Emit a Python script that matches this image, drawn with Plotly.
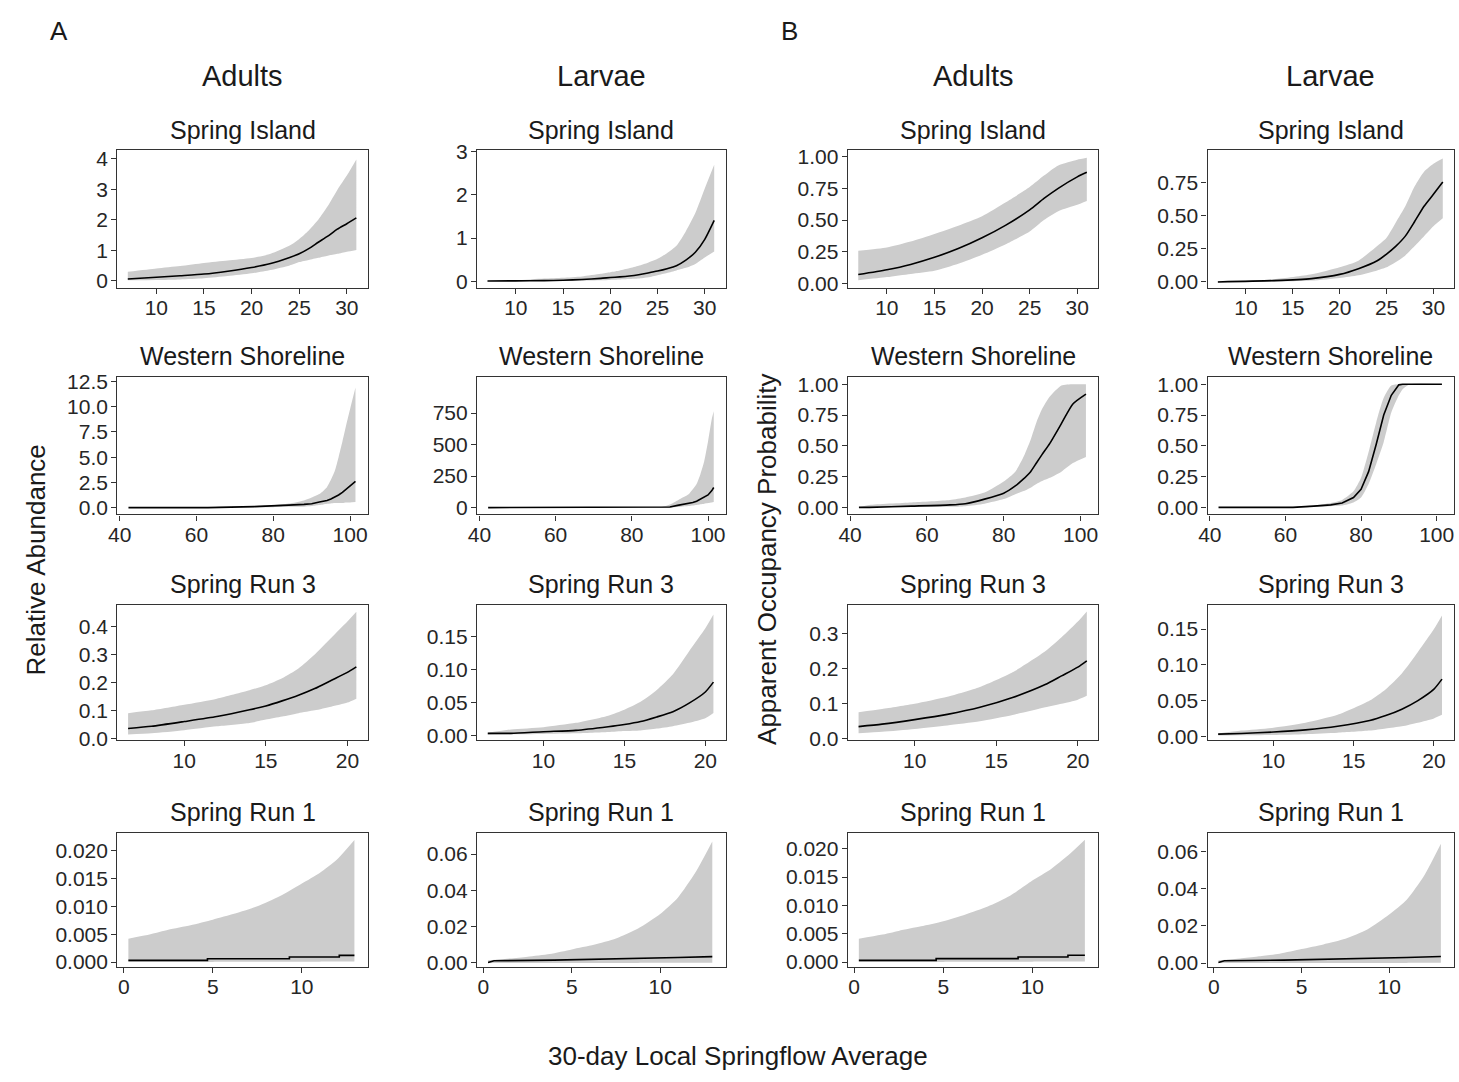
import plotly.graph_objects as go

W, H = 1459, 1082
FONT = "Liberation Sans, Arial, sans-serif"
INK = "#1a1a1a"
TICK_INK = "#262626"
BAND = "#CCCCCC"
FRAME = "#333333"

# ---------------- Spring Island ----------------
si_ad_ab_x = [7, 10, 12.5, 15, 17.5, 20, 22, 24, 25, 26, 27, 28, 29, 30, 31]
si_ad_ab_mid = [0.055, 0.11, 0.16, 0.215, 0.31, 0.43, 0.56, 0.76, 0.88, 1.05, 1.26, 1.46, 1.69, 1.87, 2.06]
si_ad_ab_hi = [0.29, 0.40, 0.48, 0.58, 0.66, 0.74, 0.88, 1.15, 1.37, 1.65, 2.0, 2.45, 2.98, 3.45, 3.98]
si_ad_ab_lo = [0.01, 0.02, 0.04, 0.08, 0.15, 0.24, 0.35, 0.50, 0.61, 0.68, 0.75, 0.82, 0.88, 0.95, 1.01]

si_lv_ab_x = [7, 10, 13, 15, 17, 19, 20, 21, 22, 23, 24, 25, 26, 27, 28, 29, 30, 31]
si_lv_ab_mid = [0.005, 0.008, 0.012, 0.02, 0.04, 0.065, 0.085, 0.10, 0.12, 0.15, 0.19, 0.235, 0.29, 0.36, 0.49, 0.67, 0.97, 1.41]
si_lv_ab_hi = [0.005, 0.02, 0.06, 0.08, 0.11, 0.17, 0.21, 0.25, 0.30, 0.36, 0.43, 0.52, 0.65, 0.82, 1.16, 1.58, 2.15, 2.70]
si_lv_ab_lo = [0.0, 0.0, 0.003, 0.006, 0.012, 0.022, 0.03, 0.038, 0.048, 0.06, 0.09, 0.14, 0.19, 0.25, 0.31, 0.40, 0.55, 0.69]

si_ad_oc_x = [7, 10, 12.5, 15, 17.5, 20, 22.5, 25, 26.5, 28, 30, 31]
si_ad_oc_mid = [0.07, 0.108, 0.15, 0.206, 0.275, 0.36, 0.46, 0.58, 0.67, 0.75, 0.84, 0.876]
si_ad_oc_hi = [0.257, 0.283, 0.33, 0.39, 0.455, 0.53, 0.64, 0.76, 0.85, 0.93, 0.975, 0.99]
si_ad_oc_lo = [0.025, 0.05, 0.075, 0.10, 0.155, 0.227, 0.31, 0.41, 0.50, 0.57, 0.62, 0.65]

si_lv_oc_x = [7, 13, 17, 20, 22, 24, 25, 26, 27, 28, 29, 30, 31]
si_lv_oc_mid = [0.0, 0.01, 0.025, 0.057, 0.10, 0.16, 0.21, 0.27, 0.345, 0.455, 0.57, 0.66, 0.753]
si_lv_oc_hi = [0.005, 0.02, 0.057, 0.11, 0.16, 0.27, 0.333, 0.45, 0.57, 0.72, 0.83, 0.89, 0.93]
si_lv_oc_lo = [0.0, 0.002, 0.01, 0.03, 0.05, 0.087, 0.11, 0.15, 0.20, 0.27, 0.345, 0.42, 0.48]

# ---------------- Western Shoreline ----------------
ws_ad_ab_x = [42.3, 63, 75, 80, 84, 88, 90, 92, 93, 94, 95, 96, 97, 98, 99, 100, 101.4]
ws_ad_ab_mid = [0.0, 0.0, 0.1, 0.15, 0.25, 0.32, 0.39, 0.55, 0.62, 0.71, 0.86, 1.03, 1.25, 1.52, 1.82, 2.17, 2.59]
ws_ad_ab_hi = [0.0, 0.05, 0.15, 0.25, 0.4, 0.71, 1.0, 1.35, 1.65, 2.05, 2.75, 3.62, 5.0, 6.54, 8.2, 9.78, 11.89]
ws_ad_ab_lo = [0.0, 0.0, 0.03, 0.05, 0.08, 0.1, 0.15, 0.25, 0.32, 0.39, 0.42, 0.45, 0.45, 0.45, 0.5, 0.52, 0.55]

ws_lv_ab_x = [42.3, 88, 90, 92, 93, 94, 95, 96, 97, 98, 99, 100, 101, 101.5]
ws_lv_ab_mid = [0, 0, 5, 18, 22, 26, 31, 40, 51, 66, 83, 101, 135, 160]
ws_lv_ab_hi = [0, 8, 25, 57, 75, 90, 109, 145, 187, 265, 368, 524, 705, 765]
ws_lv_ab_lo = [0, 0, 1, 5, 8, 10, 12, 16, 20, 26, 31, 36, 40, 44]

ws_ad_oc_x = [42.3, 45, 56, 66, 70, 75, 80, 83, 85, 87, 88.5, 90, 92, 95, 98, 101.4]
ws_ad_oc_mid = [0.0, 0.0, 0.01, 0.02, 0.03, 0.067, 0.115, 0.174, 0.227, 0.29, 0.36, 0.43, 0.52, 0.68, 0.84, 0.92]
ws_ad_oc_hi = [0.0, 0.02, 0.04, 0.06, 0.08, 0.12, 0.21, 0.29, 0.40, 0.55, 0.69, 0.80, 0.90, 0.99, 1.0, 1.0]
ws_ad_oc_lo = [0.0, 0.0, 0.002, 0.005, 0.01, 0.03, 0.067, 0.107, 0.13, 0.16, 0.19, 0.214, 0.24, 0.29, 0.36, 0.41]

ws_lv_oc_x = [42.3, 62, 67.5, 72, 75, 78, 80, 82, 84, 86, 88, 90, 91, 93, 101.4]
ws_lv_oc_mid = [0.0, 0.0, 0.01, 0.02, 0.035, 0.08, 0.147, 0.29, 0.51, 0.75, 0.91, 0.995, 1.0, 1.0, 1.0]
ws_lv_oc_hi = [0.0, 0.005, 0.015, 0.035, 0.06, 0.13, 0.24, 0.45, 0.69, 0.89, 0.99, 1.0, 1.0, 1.0, 1.0]
ws_lv_oc_lo = [0.0, 0.0, 0.003, 0.01, 0.015, 0.04, 0.08, 0.19, 0.35, 0.53, 0.77, 0.91, 0.96, 1.0, 1.0]

# ---------------- Spring Run 3 ----------------
sr3_ad_ab_x = [6.56, 8, 10, 12, 14, 15, 16, 17, 18, 19, 20, 20.55]
sr3_ad_ab_mid = [0.035, 0.043, 0.06, 0.078, 0.102, 0.116, 0.134, 0.154, 0.178, 0.207, 0.236, 0.256]
sr3_ad_ab_hi = [0.09, 0.10, 0.12, 0.142, 0.172, 0.19, 0.215, 0.25, 0.30, 0.359, 0.418, 0.453]
sr3_ad_ab_lo = [0.014, 0.018, 0.029, 0.043, 0.055, 0.067, 0.078, 0.09, 0.10, 0.113, 0.128, 0.142]

sr3_lv_ab_x = [6.56, 8, 10, 12, 14, 15, 16, 17, 18, 19, 20, 20.5]
sr3_lv_ab_mid = [0.003, 0.003, 0.0055, 0.0075, 0.013, 0.0164, 0.021, 0.028, 0.036, 0.049, 0.066, 0.081]
sr3_lv_ab_hi = [0.004, 0.009, 0.0124, 0.019, 0.03, 0.039, 0.051, 0.069, 0.093, 0.128, 0.163, 0.184]
sr3_lv_ab_lo = [0.001, 0.0015, 0.002, 0.003, 0.005, 0.0065, 0.0075, 0.0104, 0.014, 0.019, 0.026, 0.034]

sr3_ad_oc_x = [6.56, 8, 10, 12, 14, 16, 18, 19, 20, 20.55]
sr3_ad_oc_mid = [0.035, 0.042, 0.055, 0.07, 0.09, 0.118, 0.155, 0.18, 0.205, 0.223]
sr3_ad_oc_hi = [0.076, 0.085, 0.10, 0.12, 0.148, 0.19, 0.25, 0.29, 0.335, 0.364]
sr3_ad_oc_lo = [0.016, 0.02, 0.028, 0.038, 0.05, 0.068, 0.09, 0.10, 0.112, 0.123]

sr3_lv_oc_x = [6.56, 8, 10, 12, 14, 16, 17, 18, 19, 20, 20.5]
sr3_lv_oc_mid = [0.003, 0.004, 0.006, 0.009, 0.014, 0.022, 0.029, 0.038, 0.05, 0.066, 0.08]
sr3_lv_oc_hi = [0.004, 0.008, 0.012, 0.019, 0.03, 0.05, 0.066, 0.088, 0.118, 0.15, 0.169]
sr3_lv_oc_lo = [0.001, 0.0015, 0.002, 0.003, 0.005, 0.008, 0.011, 0.014, 0.019, 0.025, 0.030]

# ---------------- Spring Run 1 ----------------
sr1_x = [0.26, 1.5, 2.5, 3.75, 5, 6.25, 7.5, 8.75, 10, 11, 12, 12.95]
sr1_lo = [0.00002, 0.00002, 0.00002, 0.00003, 0.00003, 0.00004, 0.00005, 0.00006, 0.00007, 0.00008, 0.0001, 0.0001]

sr1_ad_ab_hi = [0.0042, 0.0050, 0.0058, 0.0066, 0.0076, 0.0087, 0.0100, 0.0118, 0.0141, 0.0160, 0.0185, 0.0219]
sr1_ad_ab_mx = [0.26, 4.7, 9.3, 12.1, 12.95]
sr1_ad_ab_mid = [0.0003, 0.0006, 0.0009, 0.0012, 0.0012]

sr1_lv_ab_hi = [0.0015, 0.0025, 0.0035, 0.005, 0.0075, 0.010, 0.0135, 0.019, 0.027, 0.036, 0.050, 0.067]
sr1_lv_ab_mx = [0.26, 0.6, 4.0, 8.0, 11.0, 12.95]
sr1_lv_ab_mid = [0.0003, 0.0012, 0.0016, 0.0022, 0.003, 0.0035]

sr1_ad_oc_hi = [0.0041, 0.0048, 0.0055, 0.0063, 0.0072, 0.0084, 0.0098, 0.0117, 0.0144, 0.0163, 0.0188, 0.0216]
sr1_ad_oc_mx = [0.26, 4.6, 9.2, 12.0, 12.95]
sr1_ad_oc_mid = [0.0003, 0.0006, 0.0009, 0.0012, 0.0012]

sr1_lv_oc_hi = [0.0015, 0.0025, 0.0035, 0.005, 0.0075, 0.010, 0.013, 0.018, 0.026, 0.034, 0.047, 0.064]
sr1_lv_oc_mx = [0.26, 0.6, 4.0, 8.0, 11.0, 12.95]
sr1_lv_oc_mid = [0.0003, 0.0012, 0.0016, 0.0022, 0.003, 0.0035]

# ---------------- tick values / labels ----------------
si_xticks = [10, 15, 20, 25, 30]
ws_xticks = [40, 60, 80, 100]
sr3_xticks = [10, 15, 20]
sr1_xticks = [0, 5, 10]

si_ad_ab_yt = [0, 1, 2, 3, 4]
si_lv_ab_yt = [0, 1, 2, 3]
prob_yt = [0, 0.25, 0.5, 0.75, 1.0]
prob_ytl = ["0.00", "0.25", "0.50", "0.75", "1.00"]
si_lv_oc_yt = [0, 0.25, 0.5, 0.75]
si_lv_oc_ytl = ["0.00", "0.25", "0.50", "0.75"]
ws_ad_ab_yt = [0, 2.5, 5, 7.5, 10, 12.5]
ws_ad_ab_ytl = ["0.0", "2.5", "5.0", "7.5", "10.0", "12.5"]
ws_lv_ab_yt = [0, 250, 500, 750]
sr3_ad_ab_yt = [0, 0.1, 0.2, 0.3, 0.4]
sr3_ad_ab_ytl = ["0.0", "0.1", "0.2", "0.3", "0.4"]
sr3_lv_yt = [0, 0.05, 0.10, 0.15]
sr3_lv_ytl = ["0.00", "0.05", "0.10", "0.15"]
sr3_ad_oc_yt = [0, 0.1, 0.2, 0.3]
sr3_ad_oc_ytl = ["0.0", "0.1", "0.2", "0.3"]
sr1_ad_yt = [0, 0.005, 0.010, 0.015, 0.020]
sr1_ad_ytl = ["0.000", "0.005", "0.010", "0.015", "0.020"]
sr1_lv_yt = [0, 0.02, 0.04, 0.06]
sr1_lv_ytl = ["0.00", "0.02", "0.04", "0.06"]

row_titles = ["Spring Island", "Western Shoreline", "Spring Run 3", "Spring Run 1"]
col_titles = ["Adults", "Larvae", "Adults", "Larvae"]

# panel frame positions in pixels
col_left = [109, 471, 844, 1206]
col_right = [361, 721, 1096, 1454]
row_top = [143, 374, 606, 838]
row_bottom = [283, 514, 744, 975]

row_xrange = [[5.9, 32.2], [39.4, 104.6], [5.9, 21.25], [-0.36, 13.7]]
row_xticks = [si_xticks, ws_xticks, sr3_xticks, sr1_xticks]

panels = [
    # row 0
    dict(r=0, c=0, x=si_ad_ab_x, lo=si_ad_ab_lo, hi=si_ad_ab_hi, mx=si_ad_ab_x, mid=si_ad_ab_mid,
         yr=[-0.235, 4.28], yt=si_ad_ab_yt, ytl=[str(v) for v in si_ad_ab_yt], shape="spline"),
    dict(r=0, c=1, x=si_lv_ab_x, lo=si_lv_ab_lo, hi=si_lv_ab_hi, mx=si_lv_ab_x, mid=si_lv_ab_mid,
         yr=[-0.153, 3.036], yt=si_lv_ab_yt, ytl=[str(v) for v in si_lv_ab_yt], shape="spline"),
    dict(r=0, c=2, x=si_ad_oc_x, lo=si_ad_oc_lo, hi=si_ad_oc_hi, mx=si_ad_oc_x, mid=si_ad_oc_mid,
         yr=[-0.034, 1.049], yt=prob_yt, ytl=prob_ytl, shape="spline"),
    dict(r=0, c=3, x=si_lv_oc_x, lo=si_lv_oc_lo, hi=si_lv_oc_hi, mx=si_lv_oc_x, mid=si_lv_oc_mid,
         yr=[-0.044, 0.991], yt=si_lv_oc_yt, ytl=si_lv_oc_ytl, shape="spline"),
    # row 1
    dict(r=1, c=0, x=ws_ad_ab_x, lo=ws_ad_ab_lo, hi=ws_ad_ab_hi, mx=ws_ad_ab_x, mid=ws_ad_ab_mid,
         yr=[-0.68, 12.93], yt=ws_ad_ab_yt, ytl=ws_ad_ab_ytl, shape="linear"),
    dict(r=1, c=1, x=ws_lv_ab_x, lo=ws_lv_ab_lo, hi=ws_lv_ab_hi, mx=ws_lv_ab_x, mid=ws_lv_ab_mid,
         yr=[-54.5, 1036], yt=ws_lv_ab_yt, ytl=[str(v) for v in ws_lv_ab_yt], shape="linear"),
    dict(r=1, c=2, x=ws_ad_oc_x, lo=ws_ad_oc_lo, hi=ws_ad_oc_hi, mx=ws_ad_oc_x, mid=ws_ad_oc_mid,
         yr=[-0.058, 1.058], yt=prob_yt, ytl=prob_ytl, shape="spline"),
    dict(r=1, c=3, x=ws_lv_oc_x, lo=ws_lv_oc_lo, hi=ws_lv_oc_hi, mx=ws_lv_oc_x, mid=ws_lv_oc_mid,
         yr=[-0.058, 1.058], yt=prob_yt, ytl=prob_ytl, shape="linear"),
    # row 2
    dict(r=2, c=0, x=sr3_ad_ab_x, lo=sr3_ad_ab_lo, hi=sr3_ad_ab_hi, mx=sr3_ad_ab_x, mid=sr3_ad_ab_mid,
         yr=[-0.007, 0.478], yt=sr3_ad_ab_yt, ytl=sr3_ad_ab_ytl, shape="spline"),
    dict(r=2, c=1, x=sr3_lv_ab_x, lo=sr3_lv_ab_lo, hi=sr3_lv_ab_hi, mx=sr3_lv_ab_x, mid=sr3_lv_ab_mid,
         yr=[-0.0075, 0.1988], yt=sr3_lv_yt, ytl=sr3_lv_ytl, shape="spline"),
    dict(r=2, c=2, x=sr3_ad_oc_x, lo=sr3_ad_oc_lo, hi=sr3_ad_oc_hi, mx=sr3_ad_oc_x, mid=sr3_ad_oc_mid,
         yr=[-0.004, 0.383], yt=sr3_ad_oc_yt, ytl=sr3_ad_oc_ytl, shape="spline"),
    dict(r=2, c=3, x=sr3_lv_oc_x, lo=sr3_lv_oc_lo, hi=sr3_lv_oc_hi, mx=sr3_lv_oc_x, mid=sr3_lv_oc_mid,
         yr=[-0.0055, 0.184], yt=sr3_lv_yt, ytl=sr3_lv_ytl, shape="spline"),
    # row 3
    dict(r=3, c=0, x=sr1_x, lo=sr1_lo, hi=sr1_ad_ab_hi, mx=sr1_ad_ab_mx, mid=sr1_ad_ab_mid,
         yr=[-0.00088, 0.02325], yt=sr1_ad_yt, ytl=sr1_ad_ytl, shape="hv"),
    dict(r=3, c=1, x=sr1_x, lo=sr1_lo, hi=sr1_lv_ab_hi, mx=sr1_lv_ab_mx, mid=sr1_lv_ab_mid,
         yr=[-0.0022, 0.0719], yt=sr1_lv_yt, ytl=sr1_lv_ytl, shape="linear"),
    dict(r=3, c=2, x=sr1_x, lo=sr1_lo, hi=sr1_ad_oc_hi, mx=sr1_ad_oc_mx, mid=sr1_ad_oc_mid,
         yr=[-0.00087, 0.02287], yt=sr1_ad_yt, ytl=sr1_ad_ytl, shape="hv"),
    dict(r=3, c=3, x=sr1_x, lo=sr1_lo, hi=sr1_lv_oc_hi, mx=sr1_lv_oc_mx, mid=sr1_lv_oc_mid,
         yr=[-0.0021, 0.070], yt=sr1_lv_yt, ytl=sr1_lv_ytl, shape="linear"),
]

fig = go.Figure()
layout_axes = {}

for i, p in enumerate(panels, start=1):
    xa = "x" if i == 1 else f"x{i}"
    ya = "y" if i == 1 else f"y{i}"
    r, c = p["r"], p["c"]

    # confidence ribbon: lower edge, then upper edge filled down to it
    fig.add_trace(go.Scatter(
        x=p["x"], y=p["lo"], mode="lines",
        line=dict(width=0, color=BAND, shape="spline", smoothing=0.6),
        hoverinfo="skip", showlegend=False, xaxis=xa, yaxis=ya,
    ))
    fig.add_trace(go.Scatter(
        x=p["x"], y=p["hi"], mode="lines", fill="tonexty", fillcolor=BAND,
        line=dict(width=0, color=BAND, shape="spline", smoothing=0.6),
        hoverinfo="skip", showlegend=False, xaxis=xa, yaxis=ya,
    ))
    # fitted curve
    line_style = dict(color="black", width=1.6, shape=p["shape"])
    if p["shape"] == "spline":
        line_style["smoothing"] = 0.6
    fig.add_trace(go.Scatter(
        x=p["mx"], y=p["mid"], mode="lines", line=line_style,
        hoverinfo="skip", showlegend=False, xaxis=xa, yaxis=ya,
    ))

    common = dict(
        showgrid=False, zeroline=False, showline=True, mirror=True,
        linecolor=FRAME, linewidth=1.3, ticks="outside", ticklen=5,
        tickwidth=1, tickcolor=FRAME,
        tickfont=dict(family=FONT, size=21, color=TICK_INK),
        fixedrange=True,
    )
    key_x = "xaxis" if i == 1 else f"xaxis{i}"
    key_y = "yaxis" if i == 1 else f"yaxis{i}"
    layout_axes[key_x] = dict(
        common,
        domain=[col_left[c] / W, col_right[c] / W],
        range=row_xrange[r], tickmode="array", tickvals=row_xticks[r],
        ticktext=[str(v) for v in row_xticks[r]],
        anchor=ya, ticklabelstandoff=-4,
    )
    layout_axes[key_y] = dict(
        common,
        domain=[1 - row_bottom[r] / H, 1 - row_top[r] / H],
        range=p["yr"], tickmode="array", tickvals=p["yt"], ticktext=p["ytl"],
        anchor=xa, ticklabelstandoff=-1,
    )

annotations = []


def px_note(text, x, y, size, angle=0, color=INK):
    annotations.append(dict(
        text=text, x=x / W, y=1 - y / H, xref="paper", yref="paper",
        showarrow=False, xanchor="center", yanchor="middle",
        textangle=angle, font=dict(family=FONT, size=size, color=color),
    ))


# panel titles
for r, title in enumerate(row_titles):
    for c in range(4):
        cx = (col_left[c] + col_right[c]) / 2
        px_note(title, cx, row_top[r] - 21, 25)

# column headers
for c, title in enumerate(col_titles):
    cx = (col_left[c] + col_right[c]) / 2
    px_note(title, cx, 67, 29)

# block labels
px_note("A", 50, 21, 26)
px_note("B", 785, 21, 26)

# axis titles
px_note("Relative Abundance", 27, 560, 26, angle=-90)
px_note("Apparent Occupancy Probability", 762, 560, 26, angle=-90)
px_note("30-day Local Springflow Average", 734, 1066, 26)

fig.update_layout(
    width=W, height=H, autosize=False,
    margin=dict(l=0, r=0, t=0, b=0),
    paper_bgcolor="white", plot_bgcolor="white",
    annotations=annotations,
    **layout_axes,
)

# page chrome: no body margin/padding and no scrollbars around the fixed-size figure
page_css = (
    "var s=document.createElement('style');"
    "s.textContent='html,body{margin:0!important;padding:0!important;overflow:hidden;}';"
    "document.head.appendChild(s);"
)
fig.write_html("out.html", post_script=page_css)
